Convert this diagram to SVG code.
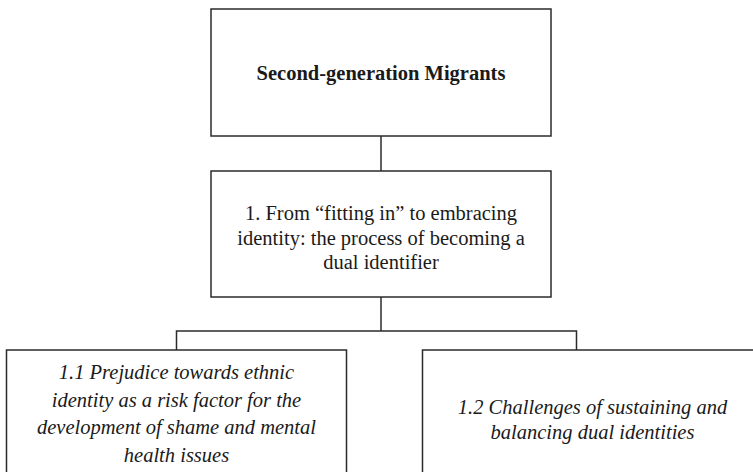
<svg xmlns="http://www.w3.org/2000/svg" width="753" height="472" viewBox="0 0 753 472">
<style>
.box{fill:#fff;stroke:#2b2b2b;stroke-width:1.5}
.ln{fill:none;stroke:#2b2b2b;stroke-width:1.5}
text{font-family:"Liberation Serif","Times New Roman",serif;font-size:20.5px;fill:#1a1a1a;text-anchor:middle}
.b{font-weight:bold}
.i{font-style:italic}
</style>
<rect width="753" height="472" fill="#fff"/>
<g id="connectors">
<path class="ln" d="M381,136 V171"/>
<path class="ln" d="M381,297 V331"/>
<path class="ln" d="M176.5,350 V331 H576.5 V350"/>
</g>
<g id="n0">
<rect class="box" x="211" y="9" width="340" height="127"/>
<text class="b" x="381" y="80">Second-generation Migrants</text>
</g>
<g id="n1">
<rect class="box" x="211" y="171" width="340" height="126"/>
<text x="381" y="220">1. From “fitting in” to embracing</text>
<text x="381" y="244.5">identity: the process of becoming a</text>
<text x="381" y="269">dual identifier</text>
</g>
<g id="n2">
<rect class="box" x="6.5" y="350" width="340" height="140"/>
<text class="i" x="176.5" y="379">1.1 Prejudice towards ethnic</text>
<text class="i" x="176.5" y="406.5">identity as a risk factor for the</text>
<text class="i" x="176.5" y="434">development of shame and mental</text>
<text class="i" x="176.5" y="461.5">health issues</text>
</g>
<g id="n3">
<rect class="box" x="422.5" y="350" width="340" height="140"/>
<text class="i" x="592.5" y="414">1.2 Challenges of sustaining and</text>
<text class="i" x="592.5" y="439">balancing dual identities</text>
</g>
</svg>
